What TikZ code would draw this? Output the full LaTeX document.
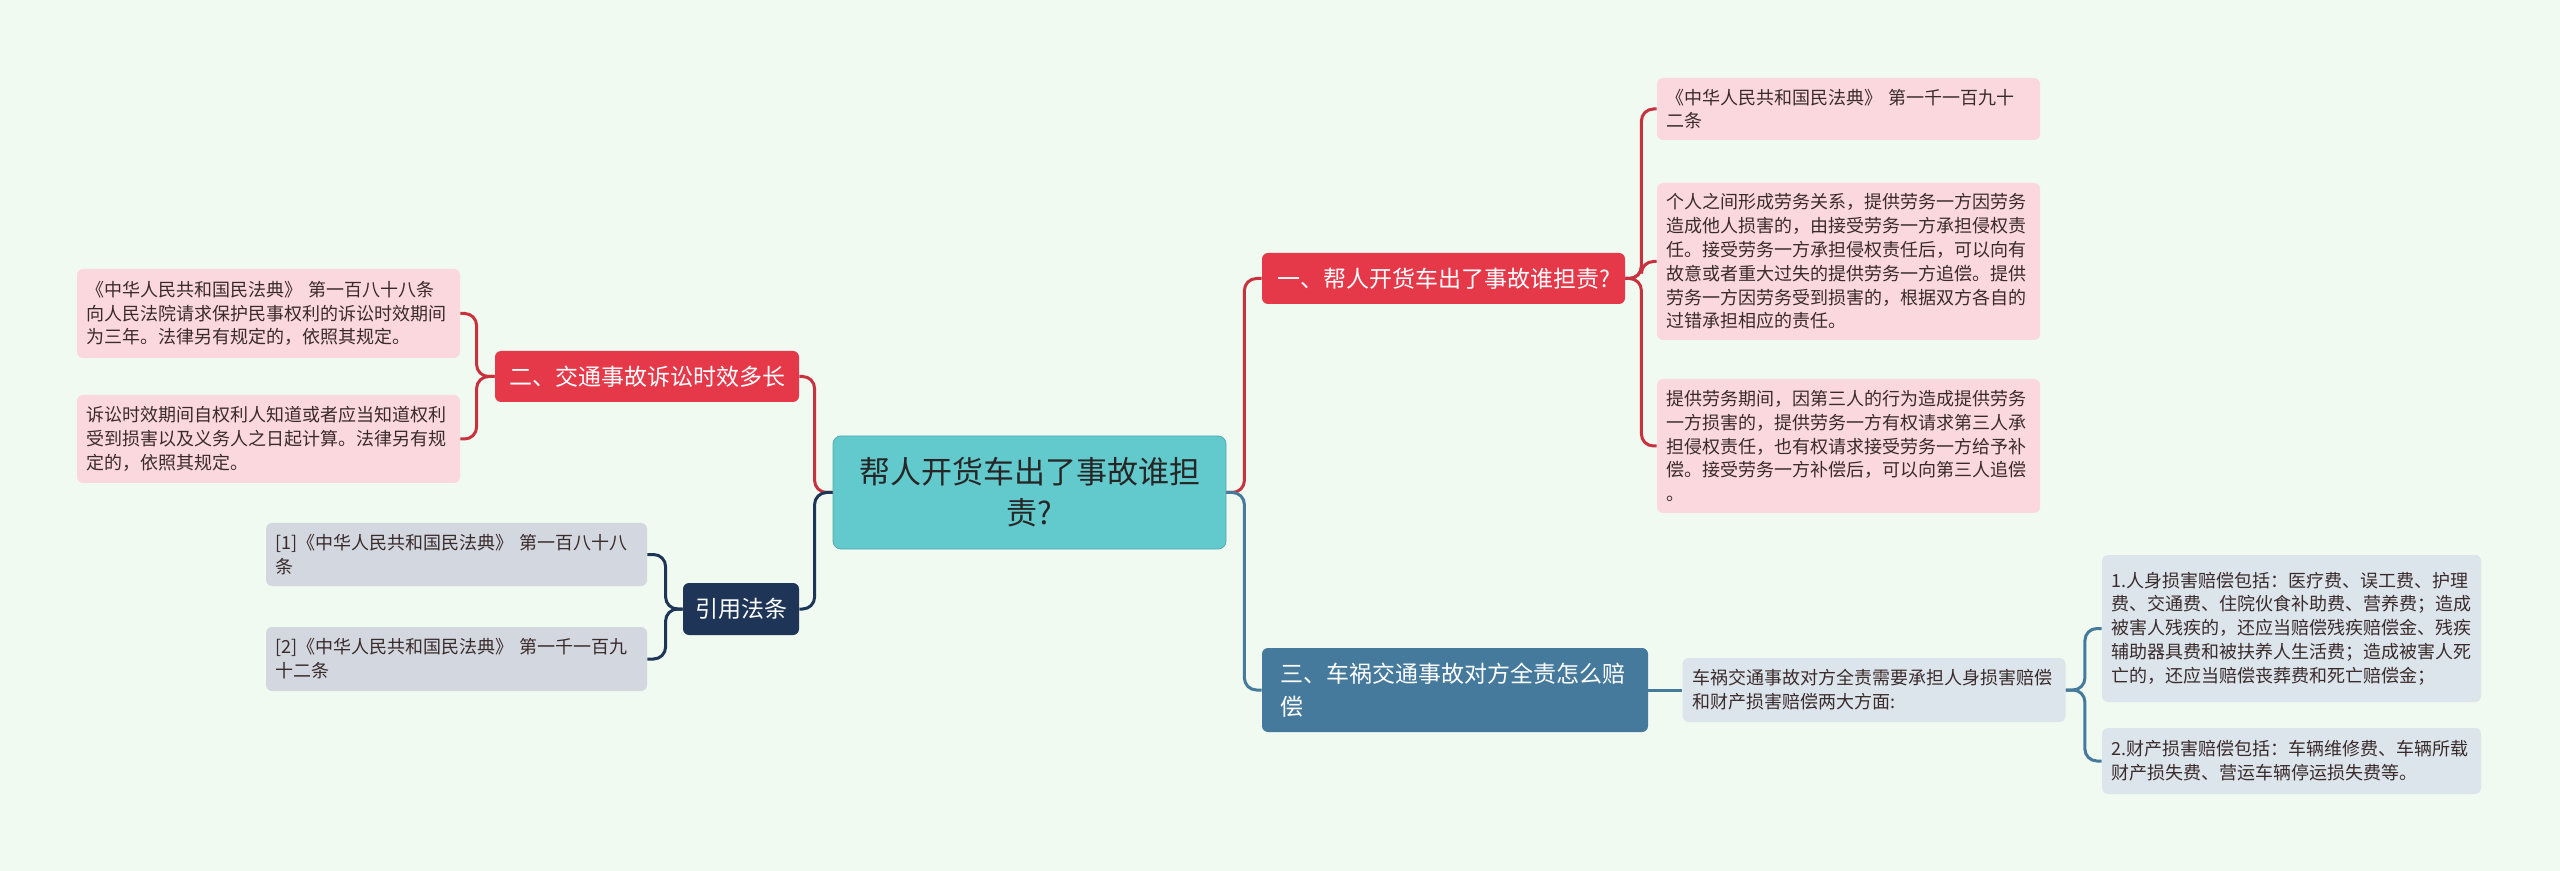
\documentclass[tikz,border=0pt]{standalone}
\usepackage{fontspec}
\setmainfont{Noto Sans CJK SC}
\usepackage{tikz}
\usetikzlibrary{calc}
\usetikzlibrary{positioning}
\definecolor{bgmint}{HTML}{F0FAF0}
\definecolor{rootteal}{HTML}{62C9CD}
\definecolor{redbox}{HTML}{E5394A}
\definecolor{redlink}{HTML}{C8323F}
\definecolor{pinkleaf}{HTML}{FBD8DD}
\definecolor{steelbox}{HTML}{457A9C}
\definecolor{paleleaf}{HTML}{DDE5EC}
\definecolor{navybox}{HTML}{1E3557}
\definecolor{greyleaf}{HTML}{D3D7DF}
\definecolor{leafink}{HTML}{3A2B2B}

\tikzset{
  leaf/.style={rounded corners=3pt, inner xsep=4.75pt, inner ysep=2pt,
    text width=182pt, align=left, text=leafink,
    font=\fontsize{9pt}{11.9pt}\selectfont},
  branch/.style={rounded corners=3pt, text=white, inner sep=0pt,
    font=\fontsize{11.5pt}{16.5pt}\selectfont},
  link/.style={line width=1.5pt, rounded corners=6pt}
}

\begin{document}
\begin{tikzpicture}[x=0.5pt, y=-0.5pt]
    \fill[bgmint] (0,0) rectangle (2560,871);
    \useasboundingbox (0,0) rectangle (2560,871);

    % root
    \node[fill=rootteal, draw=rootteal!85!black, line width=0.4pt, rounded corners=4pt,
      minimum width=196.5pt, minimum height=56.5pt, text width=185pt, align=center,
      text=black!85, font=\fontsize{15.5pt}{20.5pt}\selectfont] (root) at (1029.5,492.5)
      {帮人开货车出了事故谁担\\责?};

    % right side
    \node[branch, fill=redbox, minimum width=181.5pt, minimum height=25.5pt] (a1) at (1443.5,278.5)
      {一、帮人开货车出了事故谁担责?};
    \node[leaf, fill=pinkleaf, minimum height=31pt] (a11) at (1848.5,109)
      {《中华人民共和国民法典》 第一千一百九十\\二条};
    \node[leaf, fill=pinkleaf, minimum height=78.5pt] (a12) at (1848.5,261.5)
      {个人之间形成劳务关系，提供劳务一方因劳务\\造成他人损害的，由接受劳务一方承担侵权责\\任。接受劳务一方承担侵权责任后，可以向有\\故意或者重大过失的提供劳务一方追偿。提供\\劳务一方因劳务受到损害的，根据双方各自的\\过错承担相应的责任。};
    \node[leaf, fill=pinkleaf, minimum height=67pt] (a13) at (1848.5,446)
      {提供劳务期间，因第三人的行为造成提供劳务\\一方损害的，提供劳务一方有权请求第三人承\\担侵权责任，也有权请求接受劳务一方给予补\\偿。接受劳务一方补偿后，可以向第三人追偿\\。};

    \node[branch, fill=steelbox, minimum width=193pt, minimum height=42pt, text width=175pt,
      align=left] (a3) at (1455,690)
      {三、车祸交通事故对方全责怎么赔\\偿};
    \node[leaf, fill=paleleaf, minimum height=32pt] (a31) at (1874,690)
      {车祸交通事故对方全责需要承担人身损害赔偿\\和财产损害赔偿两大方面:};
    \node[leaf, fill=paleleaf, minimum height=73.5pt, text width=180pt] (a311) at (2291.5,628.5)
      {1.人身损害赔偿包括：医疗费、误工费、护理\\费、交通费、住院伙食补助费、营养费；造成\\被害人残疾的，还应当赔偿残疾赔偿金、残疾\\辅助器具费和被扶养人生活费；造成被害人死\\亡的，还应当赔偿丧葬费和死亡赔偿金；};
    \node[leaf, fill=paleleaf, minimum height=33pt, text width=180pt] (a312) at (2291.5,761)
      {2.财产损害赔偿包括：车辆维修费、车辆所载\\财产损失费、营运车辆停运损失费等。};

    % left side
    \node[branch, fill=redbox, minimum width=152pt, minimum height=25.5pt] (b2) at (647,376.5)
      {二、交通事故诉讼时效多长};
    \node[leaf, fill=pinkleaf, minimum height=44.5pt] (b21) at (268.5,313.5)
      {《中华人民共和国民法典》 第一百八十八条\\向人民法院请求保护民事权利的诉讼时效期间\\为三年。法律另有规定的，依照其规定。};
    \node[leaf, fill=pinkleaf, minimum height=44pt] (b22) at (268.5,439)
      {诉讼时效期间自权利人知道或者应当知道权利\\受到损害以及义务人之日起计算。法律另有规\\定的，依照其规定。};

    \node[branch, fill=navybox, minimum width=58pt, minimum height=26pt] (b4) at (741,609)
      {引用法条};
    \node[leaf, fill=greyleaf, minimum height=31.5pt, text width=181pt] (b41) at (456.5,554.5)
      {[1]《中华人民共和国民法典》 第一百八十八\\条};
    \node[leaf, fill=greyleaf, minimum height=32pt, text width=181pt] (b42) at (456.5,659)
      {[2]《中华人民共和国民法典》 第一千一百九\\十二条};

    % connectors
    \draw[link, redlink] (root.east) -- ++(18,0) |- (a1.west);
    \draw[link, steelbox] (root.east) -- ++(18,0) |- (a3.west);
    \draw[link, redlink] (root.west) -- ++(-18,0) |- (b2.east);
    \draw[link, navybox] (root.west) -- ++(-18,0) |- (b4.east);

    \foreach \l in {a11,a12,a13}{
      \draw[link, redlink] (a1.east) -- ++(16,0) |- (\l.west);
    }
    \draw[link, steelbox] (a3.east) -- (a31.west);
    \foreach \l in {a311,a312}{
      \draw[link, steelbox] (a31.east) -- ++(19,0) |- (\l.west);
    }
    \foreach \l in {b21,b22}{
      \draw[link, redlink] (b2.west) -- ++(-18,0) |- (\l.east);
    }
    \foreach \l in {b41,b42}{
      \draw[link, navybox] (b4.west) -- ++(-17,0) |- (\l.east);
    }

  \end{tikzpicture}
\end{document}
